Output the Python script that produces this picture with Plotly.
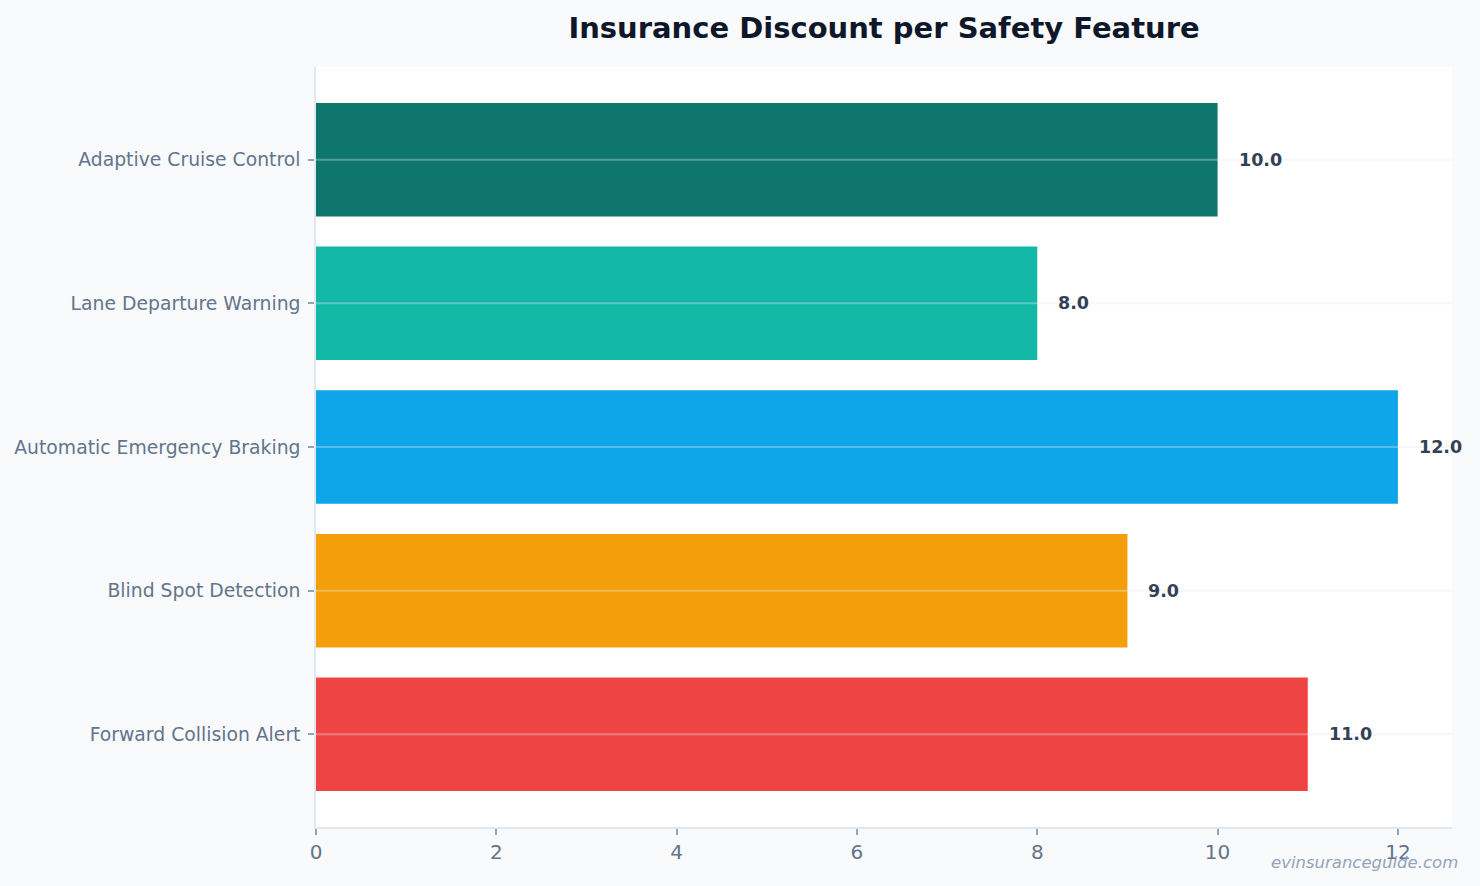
import plotly.graph_objects as go

categories = ["Adaptive Cruise Control", "Lane Departure Warning", "Automatic Emergency Braking",
              "Blind Spot Detection", "Forward Collision Alert"]
discounts = [10.0, 8.0, 12.0, 9.0, 11.0]
bar_colors = ["#0f766e", "#14b8a6", "#0ea5e9", "#f59e0b", "#ef4444"]
x_ticks = [0, 2, 4, 6, 8, 10, 12]

FONT = "DejaVu Sans"

fig = go.Figure()
fig.add_trace(go.Bar(
    y=categories, x=discounts, orientation="h",
    marker=dict(color=bar_colors, line=dict(width=0)),
    width=0.79, showlegend=False, hoverinfo="x+y",
))

# value labels
for c, v in zip(categories, discounts):
    fig.add_annotation(x=v, y=c, xref="x", yref="y", text=f"<b>{v:.1f}</b>",
                       showarrow=False, xanchor="left", yanchor="middle", xshift=19,
                       font=dict(family=FONT, size=17.5, color="#334155"))

# horizontal gridlines drawn above bars
for c in categories:
    fig.add_shape(type="line", xref="x domain", yref="y", x0=0, x1=1, y0=c, y1=c,
                  layer="above", line=dict(color="rgba(226,232,240,0.35)", width=2))

fig.add_annotation(text="<i>evinsuranceguide.com</i>", xref="paper", yref="paper",
                   x=1, y=-0.047, xanchor="right", yanchor="middle", xshift=8,
                   showarrow=False, font=dict(family=FONT, size=16.5, color="#94a3b8"))

fig.update_layout(
    width=1480, height=886,
    paper_bgcolor="#f8fafc", plot_bgcolor="#ffffff",
    margin=dict(l=316, r=28, t=67, b=59),
    font=dict(family=FONT, color="#64748b"),
    title=dict(text="<b>Insurance Discount per Safety Feature</b>", x=0.5, xref="paper",
               y=0.969, yanchor="middle", yref="container",
               font=dict(family=FONT, size=29, color="#0f172a")),
    xaxis=dict(range=[0, 12.6], tickvals=x_ticks, showgrid=False, zeroline=False,
               showline=True, linecolor="#e2e8f0", linewidth=1.5,
               ticks="outside", ticklen=6, tickcolor="#94a3b8", tickwidth=1.5,
               tickfont=dict(family=FONT, size=20, color="#64748b")),
    yaxis=dict(categoryorder="array", categoryarray=categories, range=[4.645, -0.645],
               showgrid=False, zeroline=False, showline=True, linecolor="#e2e8f0", linewidth=1.5,
               ticks="outside", ticklen=6, tickcolor="#94a3b8", tickwidth=1.5,
               ticklabelstandoff=4,
               tickfont=dict(family=FONT, size=18.8, color="#64748b")),
)

fig.write_html("out.html")
